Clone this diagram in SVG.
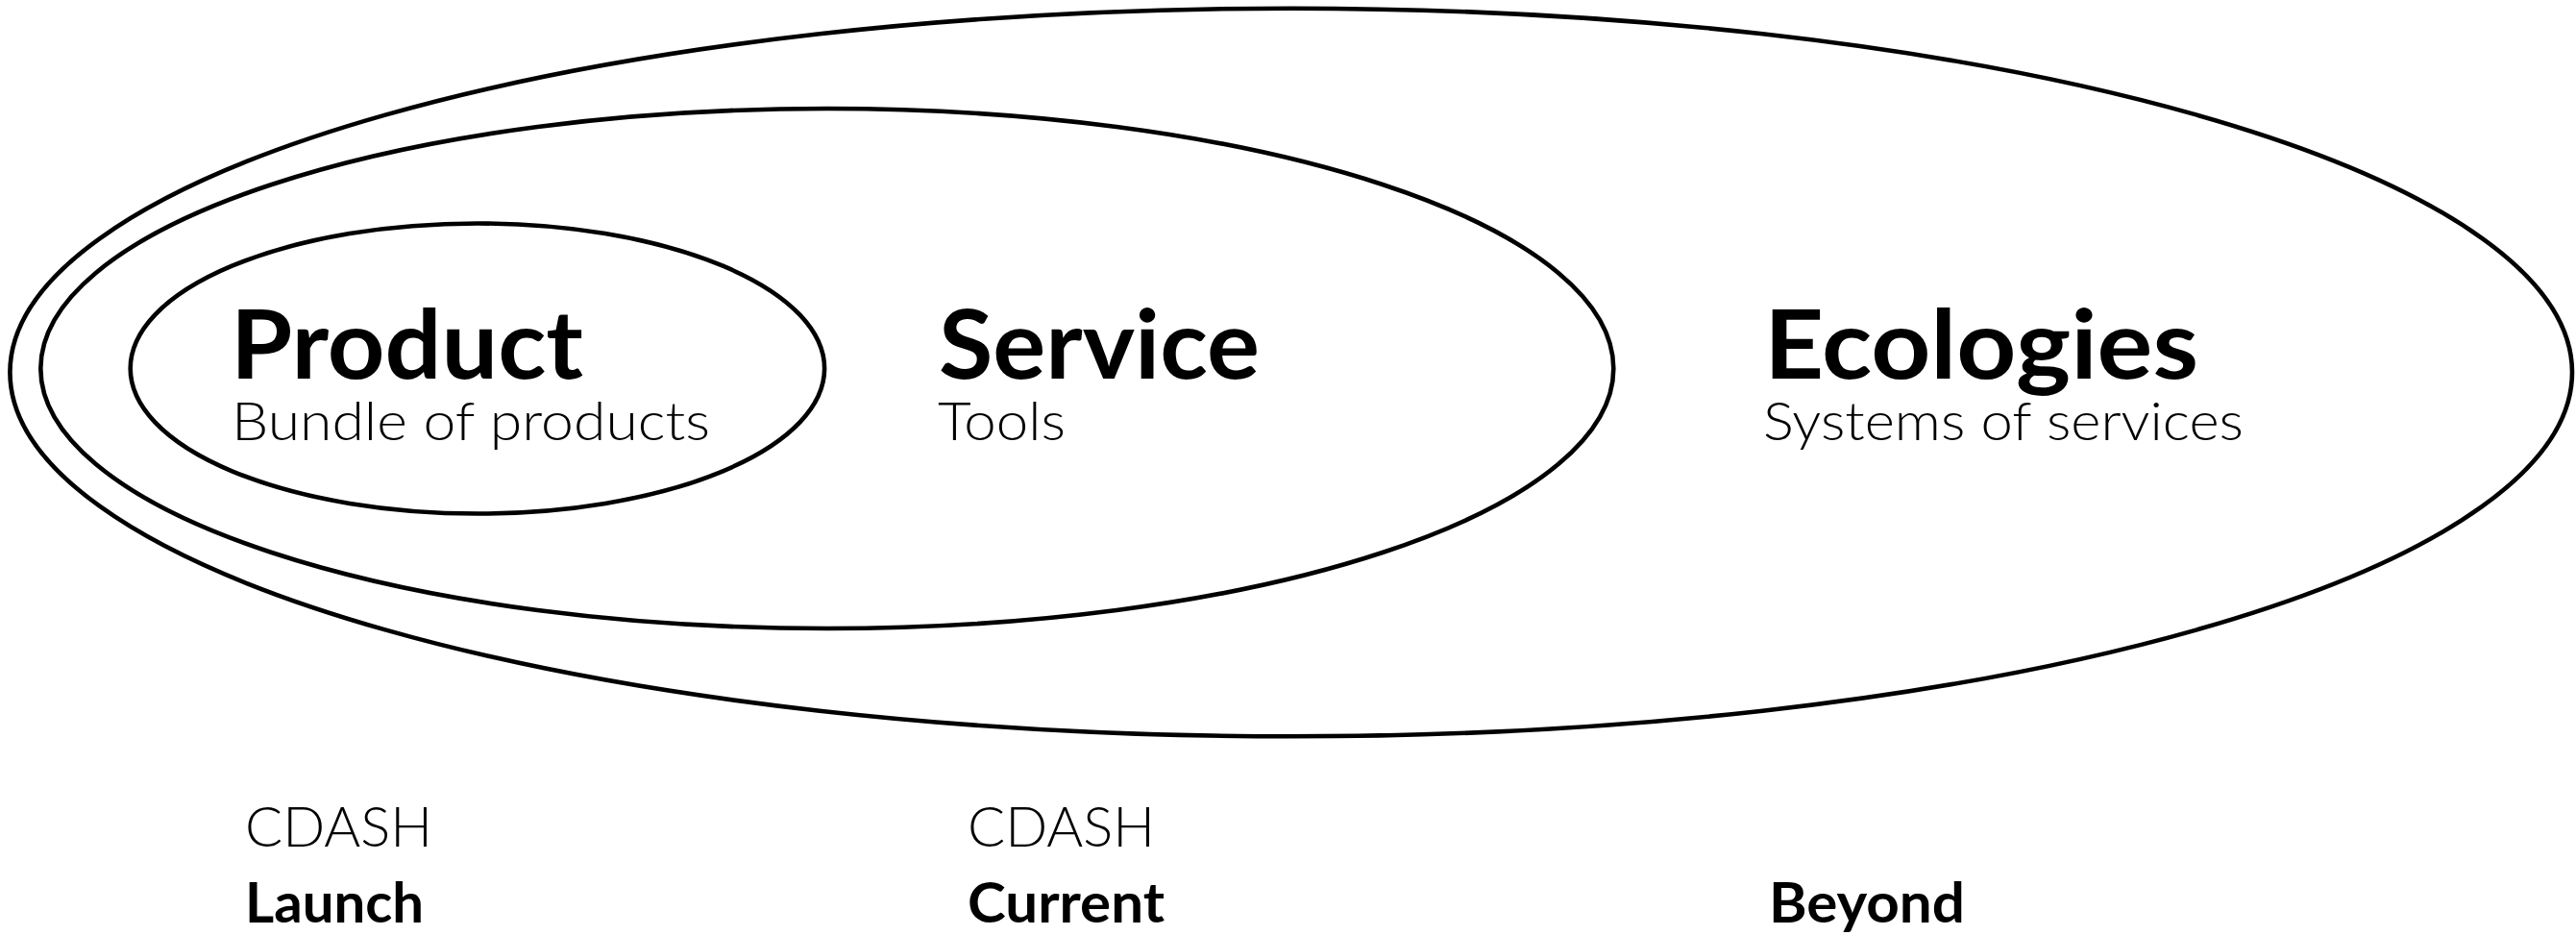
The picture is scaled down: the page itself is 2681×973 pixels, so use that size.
<svg xmlns="http://www.w3.org/2000/svg" width="2681" height="973" viewBox="0 0 2681 973">
<style>
.ring{fill:none;stroke:#000;stroke-width:4.6}
.head{font-family:Lato,"Liberation Sans",sans-serif;font-weight:700;font-size:99px;fill:#000}
.sub{font-family:Lato,"Liberation Sans",sans-serif;font-weight:300;font-size:55px;fill:#000}
.lbl{font-family:Lato,"Liberation Sans",sans-serif;font-weight:300;font-size:57px;fill:#000}
.lblb{font-family:Lato,"Liberation Sans",sans-serif;font-weight:700;font-size:57px;fill:#000}
</style>
<rect width="2681" height="973" fill="#fff"/>
<g id="ecologies">
<ellipse class="ring" cx="1343.7" cy="387.5" rx="1333.3" ry="378.8"/>
<text class="head" x="1836" y="394" textLength="452" lengthAdjust="spacingAndGlyphs">Ecologies</text>
<text class="sub" x="1835" y="458" textLength="500" lengthAdjust="spacingAndGlyphs">Systems of services</text>
</g>
<g id="service">
<ellipse class="ring" cx="860.8" cy="383.5" rx="818.5" ry="270.5"/>
<text class="head" x="977" y="394" textLength="334" lengthAdjust="spacingAndGlyphs">Service</text>
<text class="sub" x="976" y="458" textLength="133" lengthAdjust="spacingAndGlyphs">Tools</text>
</g>
<g id="product">
<ellipse class="ring" cx="496.9" cy="383.5" rx="361.2" ry="151"/>
<text class="head" x="240" y="394" textLength="367" lengthAdjust="spacingAndGlyphs">Product</text>
<text class="sub" x="241" y="458" textLength="498" lengthAdjust="spacingAndGlyphs">Bundle of products</text>
</g>
<g id="launch">
<text class="lbl" x="255" y="881" textLength="195" lengthAdjust="spacingAndGlyphs">CDASH</text>
<text class="lblb" x="255" y="960" textLength="186" lengthAdjust="spacingAndGlyphs">Launch</text>
</g>
<g id="current">
<text class="lbl" x="1007" y="881" textLength="195" lengthAdjust="spacingAndGlyphs">CDASH</text>
<text class="lblb" x="1007" y="960" textLength="205" lengthAdjust="spacingAndGlyphs">Current</text>
</g>
<g id="beyond">
<text class="lblb" x="1841" y="960" textLength="204" lengthAdjust="spacingAndGlyphs">Beyond</text>
</g>
<g id="connectors"></g>
</svg>
